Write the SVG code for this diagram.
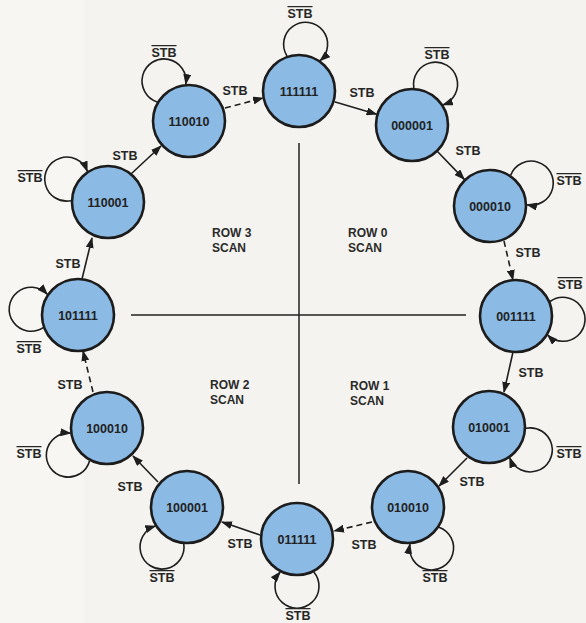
<svg xmlns="http://www.w3.org/2000/svg" width="586" height="623" viewBox="0 0 586 623">
<defs>
<marker id="ah" markerWidth="11" markerHeight="8" refX="10" refY="4" orient="auto" markerUnits="userSpaceOnUse"><path d="M0,0 L11,4 L0,8 z" fill="#1e1e1e"/></marker>
</defs>
<style>
.node circle{fill:#8bbae5;stroke:#1c1c1c;stroke-width:2.6}
.node text{font-family:"Liberation Sans",Arial,sans-serif;font-weight:bold;font-size:12.5px;fill:#222;text-anchor:middle}
.edge{fill:none;stroke:#1e1e1e;stroke-width:1.6;marker-end:url(#ah)}
.dash{stroke-dasharray:6 4}
.lbl{font-family:"Liberation Sans",Arial,sans-serif;font-weight:bold;font-size:12.5px;fill:#262626;text-anchor:middle}
.nb{text-decoration:overline}
.div{stroke:#222;stroke-width:1.5}
.row{font-family:"Liberation Sans",Arial,sans-serif;font-weight:bold;font-size:12px;fill:#2a2a2a}
</style>
<rect x="0" y="0" width="586" height="623" fill="#f4f3ef"/>
<rect x="0" y="0" width="84" height="623" fill="#f7f6f2"/>

<g id="dividers">
<line class="div" x1="299" y1="143" x2="299" y2="484"/>
<line class="div" x1="131" y1="315" x2="466" y2="315"/>
<text class="row" x="212" y="237">ROW 3</text><text class="row" x="212" y="252">SCAN</text>
<text class="row" x="348" y="237">ROW 0</text><text class="row" x="348" y="252">SCAN</text>
<text class="row" x="210" y="389">ROW 2</text><text class="row" x="210" y="404">SCAN</text>
<text class="row" x="350" y="390">ROW 1</text><text class="row" x="350" y="405">SCAN</text>
</g>

<g id="connectors">
<!-- transitions -->
<path class="edge" d="M334.4,101.7 L376.6,114.3"/>
<path class="edge" d="M437.7,151.7 L464.3,179.4"/>
<path class="edge dash" d="M504,241 L513,280"/>
<path class="edge" d="M513,352 L504,392"/>
<path class="edge" d="M467,458 L439,486"/>
<path class="edge dash" d="M372,522 L334,531"/>
<path class="edge" d="M260,535 L222,522"/>
<path class="edge" d="M158,482 L133,456"/>
<path class="edge dash" d="M93,392 L83,351"/>
<path class="edge" d="M82,279 L92,238"/>
<path class="edge" d="M131,174 L161,146"/>
<path class="edge dash" d="M225,108 L263,98"/>
<!-- self loops -->
<path class="edge" d="M287,56 A22,22 0 1 1 320.2,60.7"/>
<path class="edge" d="M413.9,88 A22,22 0 1 1 443,104.9"/>
<path class="edge" d="M510.7,175.3 A22,22 0 1 1 527,204.7"/>
<path class="edge" d="M550.1,301.5 A22,22 0 1 1 547.7,335.1"/>
<path class="edge" d="M526,428.3 A22,22 0 1 1 509.7,457.7"/>
<path class="edge" d="M439,527.2 A22,22 0 1 1 409.9,544"/>
<path class="edge" d="M313.8,572 A22,22 0 1 1 280.2,572"/>
<path class="edge" d="M183.8,543.9 A22,22 0 1 1 155.3,526.1"/>
<path class="edge" d="M89.6,460.7 A22,22 0 1 1 70.4,433.2"/>
<path class="edge" d="M43.2,327.7 A22,22 0 1 1 47.3,294.3"/>
<path class="edge" d="M71,200.7 A22,22 0 1 1 87.3,171.3"/>
<path class="edge" d="M157.3,101.9 A22,22 0 1 1 185.8,84.1"/>
<!-- transition labels -->
<text class="lbl" x="362" y="97">STB</text>
<text class="lbl" x="468" y="155">STB</text>
<text class="lbl" x="528" y="257">STB</text>
<text class="lbl" x="531" y="377">STB</text>
<text class="lbl" x="472" y="486">STB</text>
<text class="lbl" x="364" y="549">STB</text>
<text class="lbl" x="240" y="548">STB</text>
<text class="lbl" x="130" y="491">STB</text>
<text class="lbl" x="70" y="389">STB</text>
<text class="lbl" x="68" y="268">STB</text>
<text class="lbl" x="125" y="160">STB</text>
<text class="lbl" x="235" y="95">STB</text>
<!-- loop labels -->
<text class="lbl nb" x="300" y="18">STB</text>
<text class="lbl nb" x="437" y="59">STB</text>
<text class="lbl nb" x="569" y="185">STB</text>
<text class="lbl nb" x="570" y="289">STB</text>
<text class="lbl nb" x="569" y="458">STB</text>
<text class="lbl nb" x="435" y="582">STB</text>
<text class="lbl nb" x="298" y="620">STB</text>
<text class="lbl nb" x="162" y="582">STB</text>
<text class="lbl nb" x="29" y="458">STB</text>
<text class="lbl nb" x="29" y="353">STB</text>
<text class="lbl nb" x="30" y="182">STB</text>
<text class="lbl nb" x="164" y="57">STB</text>
</g>

<g id="n111111" class="node"><circle cx="299" cy="91" r="36"/><text x="299" y="95.5">111111</text></g>
<g id="n000001" class="node"><circle cx="412" cy="125" r="36"/><text x="412" y="129.5">000001</text></g>
<g id="n000010" class="node"><circle cx="490" cy="206" r="36"/><text x="490" y="210.5">000010</text></g>
<g id="n001111" class="node"><circle cx="516" cy="316" r="36"/><text x="516" y="320.5">001111</text></g>
<g id="n010001" class="node"><circle cx="489" cy="427" r="36"/><text x="489" y="431.5">010001</text></g>
<g id="n010010" class="node"><circle cx="408" cy="507" r="36"/><text x="408" y="511.5">010010</text></g>
<g id="n011111" class="node"><circle cx="297" cy="539" r="36"/><text x="297" y="543.5">011111</text></g>
<g id="n100001" class="node"><circle cx="187" cy="507" r="36"/><text x="187" y="511.5">100001</text></g>
<g id="n100010" class="node"><circle cx="107" cy="428" r="36"/><text x="107" y="432.5">100010</text></g>
<g id="n101111" class="node"><circle cx="78" cy="315" r="36"/><text x="78" y="319.5">101111</text></g>
<g id="n110001" class="node"><circle cx="108" cy="202" r="36"/><text x="108" y="206.5">110001</text></g>
<g id="n110010" class="node"><circle cx="189" cy="121" r="36"/><text x="189" y="125.5">110010</text></g>
</svg>
